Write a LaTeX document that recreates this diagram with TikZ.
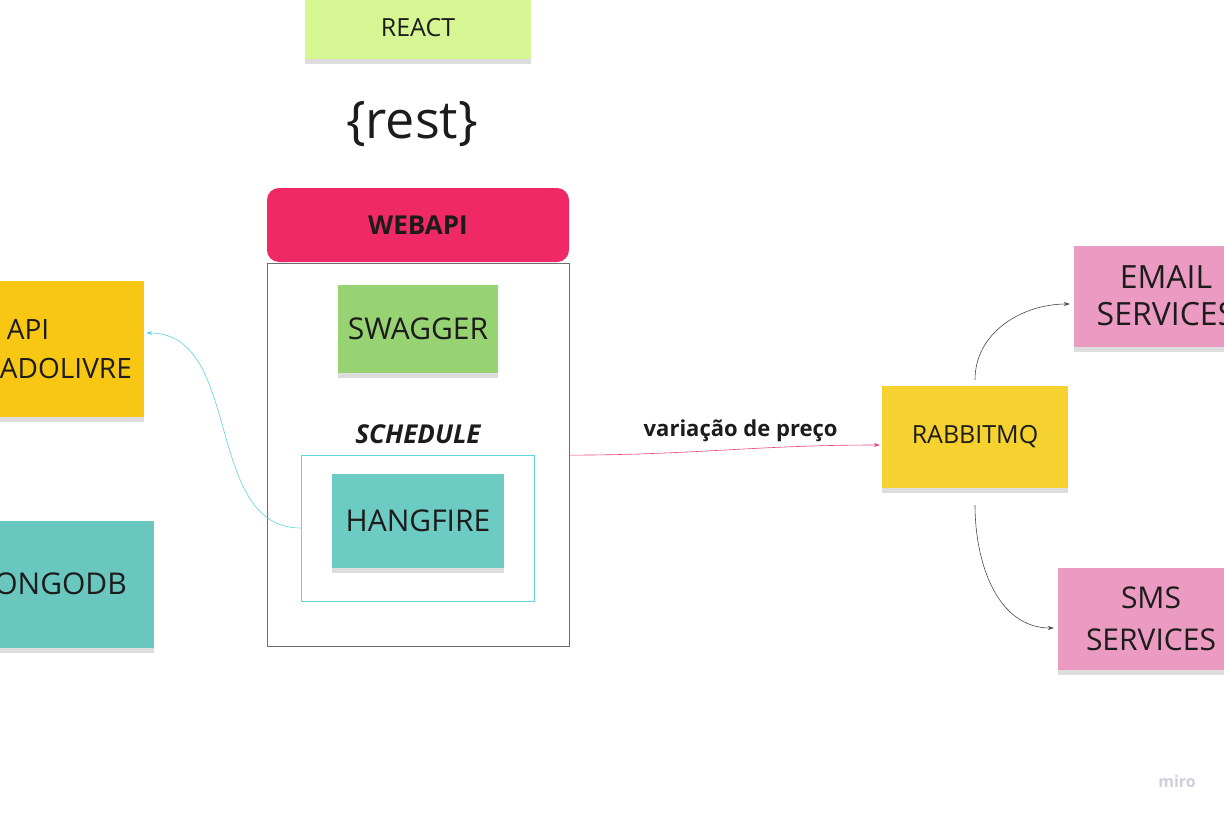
\documentclass[tikz,border=0pt]{standalone}
\usepackage{fontspec}
\setmainfont{Open Sans}
\usepackage{xcolor}
\usetikzlibrary{shapes,arrows.meta,positioning,shadows}

\definecolor{ink}{HTML}{1C1C1C}
\definecolor{reactgreen}{HTML}{D6F693}
\definecolor{webapired}{HTML}{EF2866}
\definecolor{swaggergreen}{HTML}{97D273}
\definecolor{hangteal}{HTML}{6CCBC2}
\definecolor{mongoteal}{HTML}{6AC7C0}
\definecolor{mercadoyellow}{HTML}{F8C713}
\definecolor{rabbityellow}{HTML}{F5D22F}
\definecolor{servicepink}{HTML}{EB9BC1}
\definecolor{framegray}{HTML}{6E6E6E}
\definecolor{hangcyan}{HTML}{5FD3DE}
\definecolor{pinkline}{HTML}{E8407E}
\definecolor{mirogray}{HTML}{CFCFDB}

\begin{document}
\begin{tikzpicture}[x=1pt,y=-1pt,
	note/.style={rectangle, inner sep=0pt, align=center, text=ink,
		drop shadow={shadow xshift=0pt, shadow yshift=-5pt, opacity=0.22, fill=black!60}},
	conn/.style={line width=0.6pt, -{Stealth[length=6pt,width=4pt]}}]
	\useasboundingbox (0,0) rectangle (1224,816);
	\clip (0,0) rectangle (1224,816);
	
	% front end
	\node[note, fill=reactgreen, minimum width=226pt, minimum height=62pt, font=\fontsize{25}{30}\selectfont] (react) at (418,28) {REACT};
	\node[text=ink, font=\fontsize{52}{60}\selectfont] (rest) at (412,124) {\{rest\}};
	
	% web api
	\node[rectangle, rounded corners=12pt, fill=webapired, minimum width=302pt, minimum height=74pt, text=ink, font=\fontsize{26}{30}\selectfont\bfseries] (webapi) at (418,225) {WEBAPI};
	\node[rectangle, draw=framegray, line width=0.8pt, minimum width=302pt, minimum height=383pt, below=1pt of webapi] (frame) {};
	\node[note, fill=swaggergreen, minimum width=160pt, minimum height=88pt, font=\fontsize{30}{36}\selectfont] (swagger) at (418,329) {SWAGGER};
	\node[text=ink, font=\fontsize{26}{30}\selectfont\bfseries\itshape] (schedule) at (418,434) {SCHEDULE};
	\node[rectangle, draw=hangcyan, line width=0.8pt, minimum width=233pt, minimum height=146pt] (hangframe) at (417.5,528) {};
	\node[note, fill=hangteal, minimum width=172pt, minimum height=94pt, font=\fontsize{30}{36}\selectfont] (hangfire) at (418,521) {HANGFIRE};
	
	% outside
	\node[note, fill=mercadoyellow, minimum width=232pt, minimum height=136pt, font=\fontsize{28}{39}\selectfont] (mercado) at (28,349) {API\\MERCADOLIVRE};
	\node[note, fill=mongoteal, minimum width=214pt, minimum height=127pt, font=\fontsize{30}{36}\selectfont] (mongo) at (47,584) {MONGODB};
	
	% messaging
	\node[note, fill=rabbityellow, minimum width=186pt, minimum height=102pt, font=\fontsize{25}{30}\selectfont] (rabbit) at (975,437) {RABBITMQ};
	\node[note, fill=servicepink, minimum width=184pt, minimum height=101pt, font=\fontsize{32}{37}\selectfont] (email) at (1166,296) {EMAIL\\SERVICES};
	\node[note, fill=servicepink, minimum width=186pt, minimum height=102pt, font=\fontsize{30}{42}\selectfont] (sms) at (1151,619) {SMS\\SERVICES};
	
	\draw[conn, draw=hangcyan] (hangframe.west) to[out=180,in=0] ([xshift=2pt,yshift=16pt]mercado.east);
	\draw[conn, draw=pinkline] (frame.east) to[out=0,in=180] node[above=5pt, xshift=16pt, text=ink, font=\fontsize{22}{26}\selectfont\bfseries] (preco) {variação de preço} ([xshift=-2pt,yshift=-8pt]rabbit.west);
	\draw[conn, draw=ink!80] ([yshift=6pt]rabbit.north) to[out=90,in=180] ([xshift=-4pt,yshift=-8pt]email.west);
	\draw[conn, draw=ink!80] ([yshift=-17pt]rabbit.south) to[out=-90,in=180] ([xshift=-4pt,yshift=-9pt]sms.west);
	
	\node[text=mirogray, font=\fontsize{16}{20}\selectfont\bfseries] (miro) at (1177,781) {miro};
\end{tikzpicture}
\end{document}
